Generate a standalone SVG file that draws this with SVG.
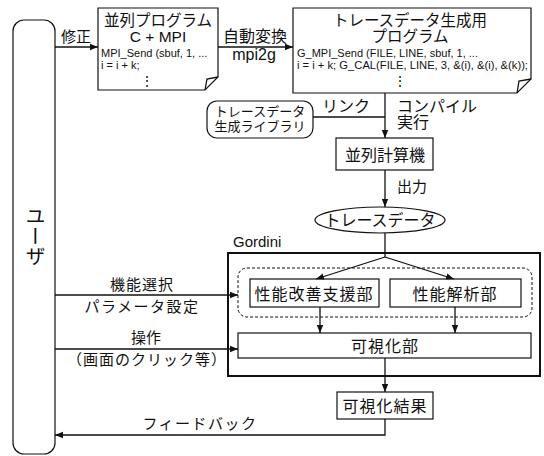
<svg xmlns="http://www.w3.org/2000/svg" width="544" height="456" viewBox="0 0 544 456">
<defs>
<marker id="ah" viewBox="0 0 8 8" refX="8" refY="4" markerWidth="8" markerHeight="8" markerUnits="userSpaceOnUse" orient="auto">
<path d="M0,0.8 L8,4 L0,7.2 Z" fill="#111"/>
</marker>
<style>
.t{font-family:"Liberation Sans","Noto Sans CJK JP",sans-serif;fill:#111}
.j{font-size:16px;text-anchor:middle}
.c{font-size:11px}
.b{fill:#fff;stroke:#111;stroke-width:1.2}
.l{fill:none;stroke:#111;stroke-width:1.3}
.a{fill:none;stroke:#111;stroke-width:1.3;marker-end:url(#ah)}
</style>
</defs>
<rect width="544" height="456" fill="#fff"/>

<g id="user">
<rect class="b" x="13" y="20" width="42" height="434" rx="11"/>
<text class="t" x="34" y="206" style="writing-mode:vertical-rl;font-size:20px">ユーザ</text>
</g>

<g id="prog1">
<path class="b" d="M98,8 H218 V77 L205,90 H98 Z"/>
<path class="l" d="M205,90 L207,79 L218,77"/>
<text class="t j" x="158" y="26" style="font-size:15.5px">並列プログラム</text>
<text class="t j" x="158" y="42" style="font-size:15.5px">C + MPI</text>
<text class="t c" x="101" y="57">MPI_Send (sbuf, 1, ...</text>
<text class="t c" x="101" y="69">i = i + k;</text>
<text class="t" x="147" y="86" style="font-size:14px;text-anchor:middle">⋮</text>
</g>

<g id="prog2">
<path class="b" d="M293,8 H531 V79 L517,93 H293 Z"/>
<path class="l" d="M517,93 L519,81 L531,79"/>
<text class="t j" x="410" y="26" style="font-size:15.5px">トレースデータ生成用</text>
<text class="t j" x="410" y="42" style="font-size:15.5px">プログラム</text>
<text class="t c" x="297" y="57">G_MPI_Send (FILE, LINE, sbuf, 1, ...</text>
<text class="t c" x="297" y="69" textLength="231" lengthAdjust="spacingAndGlyphs">i = i + k; G_CAL(FILE, LINE, 3, &amp;(i), &amp;(i), &amp;(k));</text>
<text class="t" x="400" y="86" style="font-size:14px;text-anchor:middle">⋮</text>
</g>

<g id="lib">
<rect class="b" x="207" y="101" width="106" height="37" rx="10"/>
<text class="t" x="260" y="116" style="font-size:13px;text-anchor:middle">トレースデータ</text>
<text class="t" x="260" y="131" style="font-size:13px;text-anchor:middle">生成ライブラリ</text>
</g>

<g id="machine">
<rect class="b" x="336" y="138" width="97" height="32"/>
<text class="t j" x="385" y="161">並列計算機</text>
</g>

<g id="trace">
<ellipse class="b" cx="380" cy="220" rx="65" ry="13"/>
<text class="t j" x="380" y="226">トレースデータ</text>
</g>

<g id="gordini">
<rect x="228" y="253" width="312" height="123" fill="none" stroke="#111" stroke-width="2"/>
<text class="t" x="233" y="247" style="font-size:15px">Gordini</text>
<rect x="238" y="268" width="294" height="49" rx="9" fill="none" stroke="#111" stroke-width="1" stroke-dasharray="3,2"/>
</g>

<g id="improve">
<rect class="b" x="250" y="279" width="129" height="28"/>
<text class="t j" x="314" y="300" letter-spacing="1">性能改善支援部</text>
</g>

<g id="analyze">
<rect class="b" x="390" y="279" width="131" height="28"/>
<text class="t j" x="455" y="300" letter-spacing="1">性能解析部</text>
</g>

<g id="vis">
<rect class="b" x="238" y="333" width="293" height="25"/>
<text class="t j" x="385" y="352" letter-spacing="1">可視化部</text>
</g>

<g id="result">
<rect class="b" x="337" y="392" width="96" height="27"/>
<text class="t j" x="385" y="412" letter-spacing="1">可視化結果</text>
</g>

<g id="connectors">
<line class="a" x1="55" y1="47" x2="98" y2="47"/>
<line class="a" x1="218" y1="47" x2="293" y2="47"/>
<line class="a" x1="385" y1="93" x2="385" y2="138"/>
<line class="l" x1="313" y1="117" x2="385" y2="117"/>
<line class="a" x1="385" y1="170" x2="385" y2="207"/>
<line class="l" x1="385" y1="233" x2="385" y2="257"/>
<line class="a" x1="385" y1="257" x2="316" y2="279"/>
<line class="a" x1="385" y1="257" x2="454" y2="279"/>
<line class="a" x1="320" y1="307" x2="320" y2="333"/>
<line class="a" x1="455" y1="307" x2="455" y2="333"/>
<line class="a" x1="55" y1="295" x2="238" y2="295"/>
<line class="a" x1="55" y1="349" x2="238" y2="349"/>
<line class="a" x1="385" y1="358" x2="385" y2="392"/>
<polyline class="a" points="385,419 385,435 55,435"/>
</g>

<g id="labels">
<text class="t" x="76" y="42" style="font-size:15px;text-anchor:middle">修正</text>
<text class="t j" x="255" y="42">自動変換</text>
<text class="t j" x="254" y="60">mpi2g</text>
<text class="t j" x="346" y="112">リンク</text>
<text class="t" x="397" y="112" style="font-size:16px">コンパイル</text>
<text class="t" x="397" y="128" style="font-size:16px">実行</text>
<text class="t" x="397" y="192" style="font-size:15px">出力</text>
<text class="t j" x="142" y="290" style="font-size:15px" letter-spacing="1">機能選択</text>
<text class="t j" x="142" y="312" style="font-size:15px" letter-spacing="1.5">パラメータ設定</text>
<text class="t j" x="146" y="343" style="font-size:15px">操作</text>
<text class="t j" x="147" y="365" style="font-size:15px" letter-spacing="1">（画面のクリック等）</text>
<text class="t j" x="200" y="429" style="font-size:15px" letter-spacing="1.5">フィードバック</text>
</g>
</svg>
